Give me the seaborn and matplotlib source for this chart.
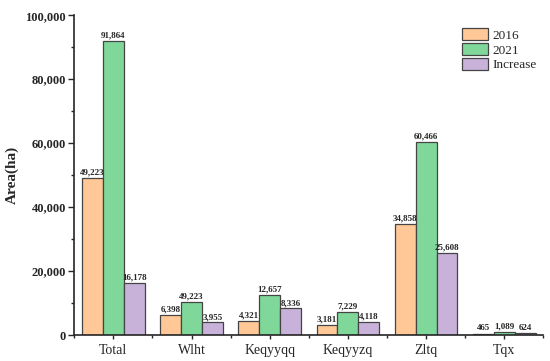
import pandas as pd
import seaborn as sns
import matplotlib.pyplot as plt
from matplotlib.ticker import MultipleLocator, FuncFormatter

# DATA
regions = ['Total', 'Wlht', 'Keqyyqq', 'Keqyyzq', 'Zltq', 'Tqx']
area_2016 = [49223, 6398, 4321, 3181, 34858, 465]
area_2021 = [91864, 10353, 12657, 7229, 60466, 1089]
increase = [16178, 3955, 8336, 4118, 25608, 624]
# labels as printed on the chart (Wlht 2021 label differs from bar height)
labels_2016 = ['49,223', '6,398', '4,321', '3,181', '34,858', '465']
labels_2021 = ['91,864', '49,223', '12,657', '7,229', '60,466', '1,089']
labels_inc = ['16,178', '3,955', '8,336', '4,118', '25,608', '624']

sns.set_style('ticks')
plt.rcParams['font.family'] = ['Liberation Serif', 'DejaVu Serif']

df = pd.DataFrame({
    'Region': regions * 3,
    'Area': area_2016 + area_2021 + increase,
    'Series': ['2016'] * 6 + ['2021'] * 6 + ['Increase'] * 6,
})

colors = ['#FFC896', '#7FD89A', '#C8B2D9']

fig = plt.figure(figsize=(5.5, 3.61), dpi=100)
ax = fig.add_axes([0.135, 0.072, 0.853, 0.886])
sns.barplot(data=df, x='Region', y='Area', hue='Series', palette=colors,
            saturation=1, width=0.8, edgecolor='#444444', linewidth=0.9,
            ax=ax, legend=True)

# VALUE LABELS ON TOP OF BARS
for cont, labs in zip(ax.containers, [labels_2016, labels_2021, labels_inc]):
    ax.bar_label(cont, labels=labs, padding=1, fontsize=6.5, fontweight='bold')

ax.set_ylim(0, 100000)
ax.set_xlim(-0.5, 5.5)
ax.yaxis.set_major_locator(MultipleLocator(20000))
ax.yaxis.set_minor_locator(MultipleLocator(10000))
ax.yaxis.set_major_formatter(FuncFormatter(lambda v, p: f'{int(v):,}'))
ax.xaxis.set_minor_locator(MultipleLocator(1, offset=0.5))
ax.tick_params(axis='y', which='major', labelsize=9, length=4, width=1, pad=2)
ax.tick_params(axis='y', which='minor', length=2.5, width=1)
ax.tick_params(axis='x', which='major', labelsize=10, length=3, width=1)
ax.tick_params(axis='x', which='minor', length=2.5, width=1)
for t in ax.get_yticklabels():
    t.set_fontweight('bold')
for s in ['left', 'bottom']:
    ax.spines[s].set_linewidth(1.2)
sns.despine(ax=ax)

ax.set_xlabel('')
ax.set_ylabel('Area(ha)', fontsize=11, fontweight='bold', labelpad=5)

leg = ax.legend(loc='upper right', bbox_to_anchor=(0.985, 0.96), frameon=False,
                fontsize=9.5, handlelength=2.0, handleheight=1.05,
                labelspacing=0.1, handletextpad=0.3, borderaxespad=0,
                borderpad=0)

plt.savefig('out.png', dpi=100)
